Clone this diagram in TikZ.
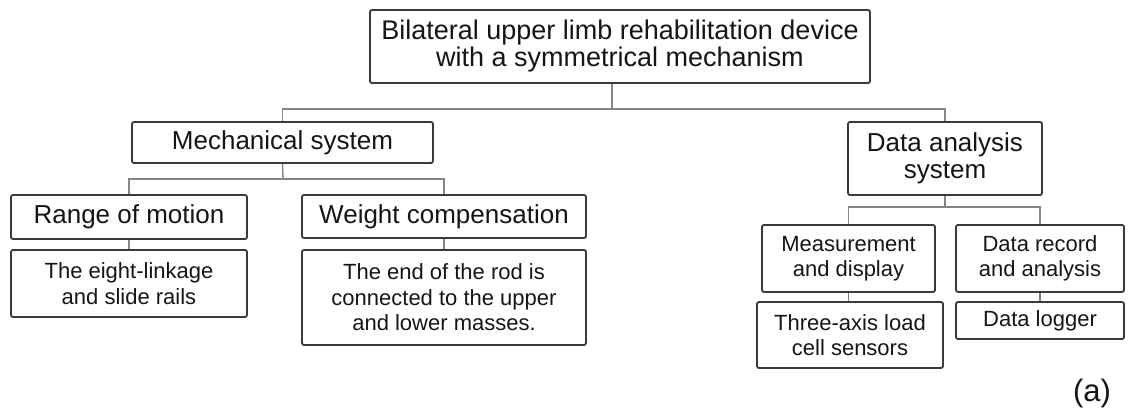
\documentclass[tikz,border=0pt]{standalone}
\usepackage{fontspec}
\setmainfont{Liberation Sans}
\definecolor{bordc}{HTML}{3A3A3A}
\definecolor{linec}{HTML}{858585}
\definecolor{txtc}{HTML}{151515}
\begin{document}
\begin{tikzpicture}[x=1pt,y=-1pt,
  box/.style={draw=bordc, line width=1.8pt, rounded corners=2pt, align=center, inner sep=0pt, text=txtc},
  big/.style={font=\fontsize{26}{26.5}\selectfont},
  small/.style={font=\fontsize{22}{25.5}\selectfont},
  conn/.style={draw=linec, line width=1.4pt}]
\useasboundingbox (0,0) rectangle (1128,413);
% level 0
\node[box,font=\fontsize{27}{27}\selectfont,minimum width=500pt,minimum height=73pt] (top) at (620,46.5) {Bilateral upper limb rehabilitation device\\with a symmetrical mechanism};
% level 1
\node[box,big,minimum width=301pt,minimum height=41pt] (mech) at (282.5,142.5) {Mechanical system};
\node[box,big,minimum width=194pt,minimum height=73pt] (da) at (945,158.5) {Data analysis\\system};
% level 2 left
\node[box,big,minimum width=236pt,minimum height=44pt] (rom) at (129,217) {Range of motion};
\node[box,small,minimum width=236pt,minimum height=67pt] (eight) at (129,283.5) {The eight-linkage\\and slide rails};
\node[box,big,minimum width=284pt,minimum height=43pt] (wc) at (444,216.5) {Weight compensation};
\node[box,small,minimum width=284pt,minimum height=95pt] (rod) at (444,297.5) {The end of the rod is\\connected to the upper\\and lower masses.};
% level 2 right
\node[box,small,minimum width=173pt,minimum height=67pt] (meas) at (848.5,258.5) {Measurement\\and display};
\node[box,small,minimum width=186pt,minimum height=66pt] (three) at (850,335) {Three-axis load\\cell sensors};
\node[box,small,minimum width=168pt,minimum height=67pt] (rec) at (1040,258.5) {Data record\\and analysis};
\node[box,small,minimum width=168pt,minimum height=37pt] (logger) at (1040,320.5) {Data logger};
% label
\node[font=\fontsize{31}{31}\selectfont,text=txtc,inner sep=0pt] (lab) at (1092,393) {(a)};
% junctions
\coordinate (j0) at (612,109);
\coordinate (j1) at (283,179);
\coordinate (j2) at (945,207);
% connectors
\draw[conn] (top.south -| j0) -- (j0);
\draw[conn] (mech.north) |- (j0) -| (da.north);
\draw[conn] (mech.south) -- (j1);
\draw[conn] (rom.north) |- (j1) -| (wc.north);
\draw[conn] (rom.south) -- (eight.north);
\draw[conn] (wc.south) -- (rod.north);
\draw[conn] (da.south) -- (j2);
\draw[conn] (meas.north) |- (j2) -| (rec.north);
\draw[conn] (meas.south) -- (meas.south |- three.north);
\draw[conn] (rec.south) -- (logger.north);
\end{tikzpicture}
\end{document}
